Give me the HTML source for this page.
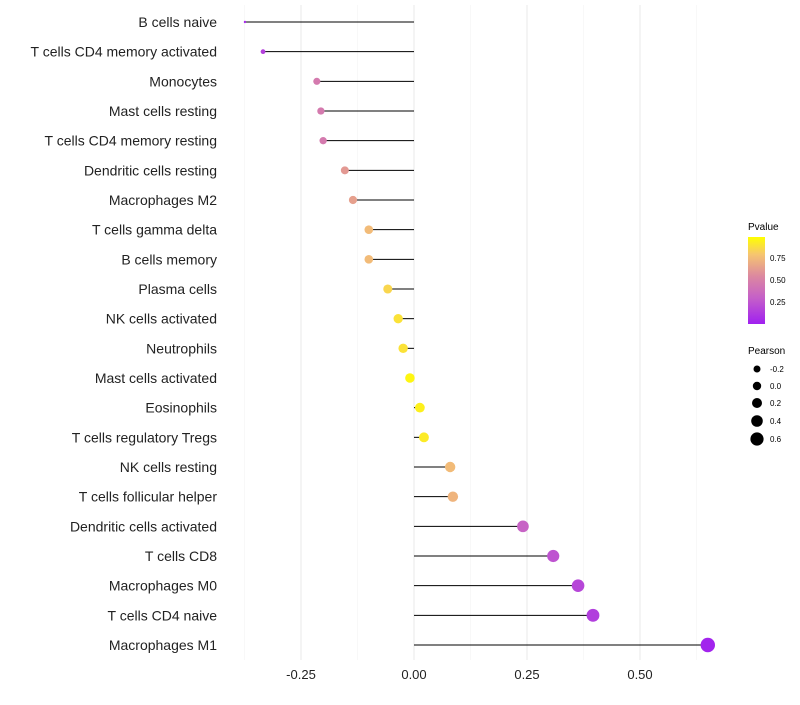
<!DOCTYPE html>
<html><head><meta charset="utf-8"><style>
body{margin:0;background:#fff;font-family:"Liberation Sans",sans-serif}
svg text{font-family:"Liberation Sans",sans-serif}
</style></head><body>
<svg id="chart" width="800" height="700">
<defs><linearGradient id="pg" x1="0" y1="1" x2="0" y2="0">
<stop offset="0" stop-color="#a020f0"/><stop offset="0.3" stop-color="#c560c8"/><stop offset="0.55" stop-color="#dc88a0"/><stop offset="0.8" stop-color="#f6c570"/><stop offset="1" stop-color="#ffff00"/></linearGradient></defs>
<g id="grid"></g><g id="marks"></g><g id="labels"></g>
<g>
<text x="748" y="230" font-size="10">Pvalue</text>
<rect x="748" y="237" width="17" height="87" fill="url(#pg)"/>
<text x="770" y="261" font-size="8">0.75</text><text x="770" y="283" font-size="8">0.50</text><text x="770" y="305" font-size="8">0.25</text>
</g>
<g>
<text x="748" y="354" font-size="10">Pearson</text>
<circle cx="757" cy="369" r="3.5"/><text x="770" y="372" font-size="8">-0.2</text>
<circle cx="757" cy="386" r="4.2"/><text x="770" y="389" font-size="8">0.0</text>
<circle cx="757" cy="403" r="5"/><text x="770" y="406" font-size="8">0.2</text>
<circle cx="757" cy="421" r="5.8"/><text x="770" y="424" font-size="8">0.4</text>
<circle cx="757" cy="439" r="6.6"/><text x="770" y="442" font-size="8">0.6</text>
</g>
</svg>
<script>
const categories=["B cells naive","T cells CD4 memory activated","Monocytes","Mast cells resting","T cells CD4 memory resting","Dendritic cells resting","Macrophages M2","T cells gamma delta","B cells memory","Plasma cells","NK cells activated","Neutrophils","Mast cells activated","Eosinophils","T cells regulatory  Tregs ","NK cells resting","T cells follicular helper","Dendritic cells activated","T cells CD8","Macrophages M0","T cells CD4 naive","Macrophages M1"];
const pearson=[-0.374,-0.334,-0.215,-0.206,-0.201,-0.153,-0.135,-0.100,-0.100,-0.058,-0.035,-0.024,-0.009,0.013,0.022,0.080,0.086,0.241,0.308,0.363,0.396,0.650];
const pvalue=[0.05,0.15,0.46,0.46,0.46,0.62,0.65,0.76,0.76,0.86,0.90,0.90,0.97,0.95,0.93,0.76,0.73,0.32,0.24,0.18,0.14,0.02];
const ticks=[-0.25,0,0.25,0.5];
const tickLabels=["-0.25","0.00","0.25","0.50"];
const NS="http://www.w3.org/2000/svg";
const x=v=>414+v*452;
const y=i=>22+i*(623/21);
const rad=v=>1.2+6*Math.sqrt(Math.max(0,(v+0.374)/1.024));
function col(p){const st=[[0,[160,32,240]],[0.3,[197,96,200]],[0.55,[220,136,160]],[0.8,[246,197,112]],[1,[255,255,0]]];
for(let k=1;k<st.length;k++){if(p<=st[k][0]){const a=st[k-1],b=st[k],t=(p-a[0])/(b[0]-a[0]);return `rgb(${a[1].map((c,j)=>Math.round(c+(b[1][j]-c)*t)).join(',')})`;}}return "rgb(255,255,0)";}
function mk(t,a,p){const e=document.createElementNS(NS,t);for(const k in a)e.setAttribute(k,a[k]);p.appendChild(e);return e;}
const grid=document.getElementById('grid'),marks=document.getElementById('marks'),labels=document.getElementById('labels');
const minors=[-0.375,-0.125,0.125,0.375,0.625];
minors.forEach(v=>{const l=mk('line',{x1:x(v),x2:x(v),y1:5,y2:660,stroke:'#f4f4f4','stroke-width':0.6},grid);

});
ticks.forEach((v,i)=>{const l=mk('line',{x1:x(v),x2:x(v),y1:5,y2:660,stroke:'#ebebeb','stroke-width':1.1},grid);


const t=mk('text',{x:x(v),y:679,'font-size':13,fill:'#222','text-anchor':'middle'},labels);t.textContent=tickLabels[i];

});
categories.forEach((c,i)=>{const yy=y(i);
const l=mk('line',{x1:x(0),x2:x(pearson[i]),y1:yy,y2:yy,stroke:'#000','stroke-width':1},marks);


const d=mk('circle',{cx:x(pearson[i]),cy:yy,r:rad(pearson[i]),fill:col(pvalue[i])},marks);


const t=mk('text',{x:217,y:yy+5,'font-size':14,fill:'#222','text-anchor':'end'},labels);t.textContent=c;

});
</script>
</body></html>
